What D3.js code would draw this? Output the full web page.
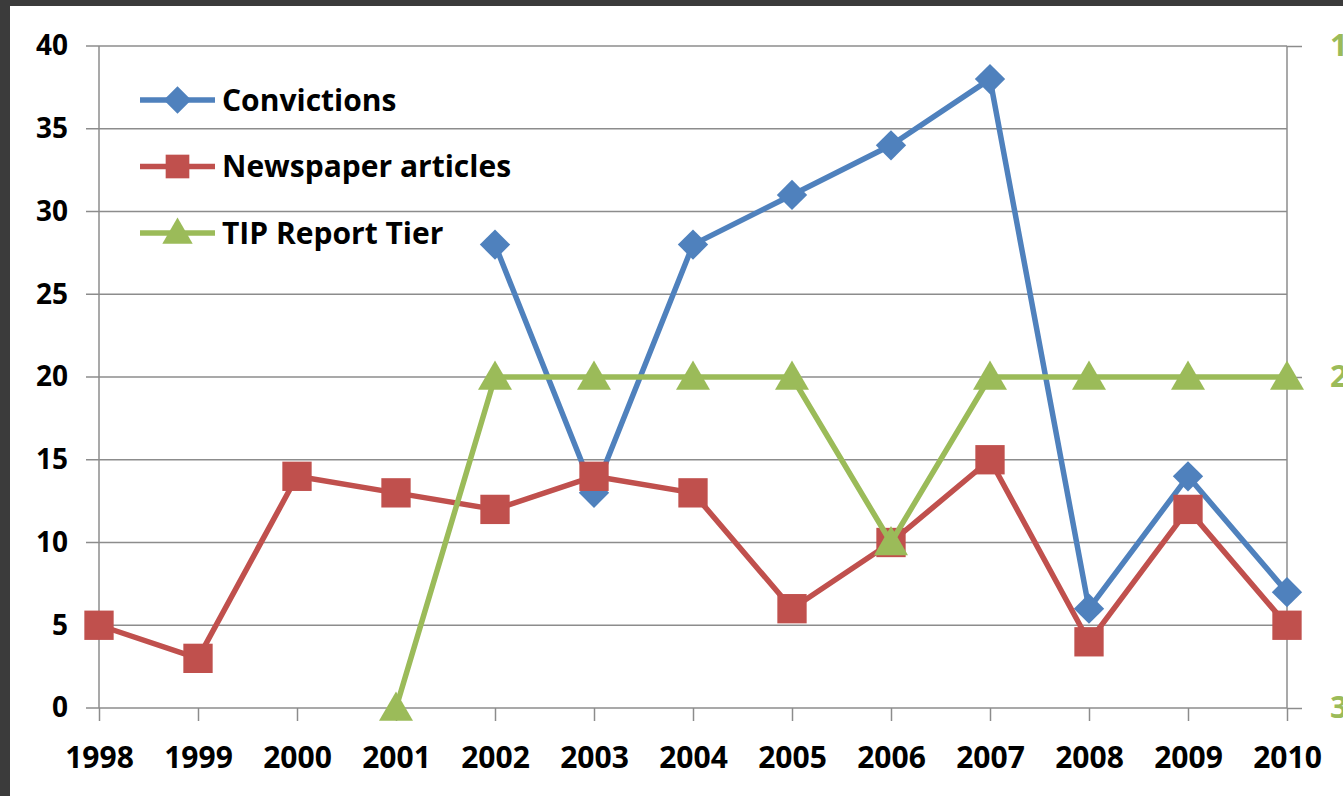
<!DOCTYPE html>
<html><head><meta charset="utf-8">
<script src="https://cdn.jsdelivr.net/npm/d3@7"></script>
<style>html,body{margin:0;padding:0;background:#fff;overflow:hidden}</style>
</head><body>
<svg id="c" width="1343" height="796"></svg>
<script>
const years = [1998,1999,2000,2001,2002,2003,2004,2005,2006,2007,2008,2009,2010];
const convictions = [null,null,null,null,28,13,28,31,34,38,6,14,7];
const newspaper = [5,3,14,13,12,14,13,6,10,15,4,12,5];
const tipTier = [null,null,null,3,2,2,2,2,2.5,2,2,2,2];
const leftTicks = [0,5,10,15,20,25,30,35,40];
const rightTicks = [1,2,3];
const seriesNames = ["Convictions","Newspaper articles","TIP Report Tier"];

const svg = d3.select("#c");
const W = 1343, H = 796;
const m = {left:99, right:1287, top:46, bottom:708};
const font = "'Open Sans', Lato, sans-serif";
const blue = "#4f81bd", red = "#c0504d", green = "#9bbb59";

svg.append("rect").attr("width",W).attr("height",H).attr("fill","#fff");
svg.append("rect").attr("x",0).attr("y",0).attr("width",W).attr("height",6).attr("fill","#3b3b3b");
svg.append("rect").attr("x",0).attr("y",0).attr("width",10).attr("height",H).attr("fill","#3b3b3b");

const x = d3.scalePoint().domain(years).range([m.left, m.right]);
const y = d3.scaleLinear().domain([0,40]).range([m.bottom, m.top]);
const y2 = d3.scaleLinear().domain([3,1]).range([m.bottom, m.top]);

svg.append("g").selectAll("line").data(leftTicks).join("line")
  .attr("x1", m.left-13).attr("x2", m.right).attr("y1", d=>y(d)).attr("y2", d=>y(d))
  .attr("stroke","#8c8c8c").attr("stroke-width",1.5);

svg.append("line").attr("x1",m.left).attr("x2",m.left).attr("y1",m.top).attr("y2",m.bottom)
  .attr("stroke","#8c8c8c").attr("stroke-width",1.5);
svg.append("line").attr("x1",m.right).attr("x2",m.right).attr("y1",m.top).attr("y2",m.bottom)
  .attr("stroke","#8c8c8c").attr("stroke-width",1.5);

const yAxis = d3.axisLeft(y).tickValues(leftTicks).tickSize(0).tickPadding(31);
const gy = svg.append("g").attr("transform",`translate(${m.left},0)`).call(yAxis);
gy.select(".domain").remove();
gy.selectAll("text").attr("font-family",font).attr("font-weight","bold").attr("font-size",28).attr("fill","#000");

const yAxis2 = d3.axisRight(y2).tickValues(rightTicks).tickFormat(d3.format("d")).tickSize(15).tickPadding(28);
const gy2 = svg.append("g").attr("transform",`translate(${m.right},0)`).call(yAxis2);
gy2.select(".domain").remove();
gy2.selectAll("line").attr("stroke","#8c8c8c").attr("stroke-width",1.5);
gy2.selectAll("text").attr("font-family",font).attr("font-weight","bold").attr("font-size",31).attr("fill",green);

const xAxis = d3.axisBottom(x).tickSize(13).tickPadding(26);
const gx = svg.append("g").attr("transform",`translate(0,${m.bottom})`).call(xAxis);
gx.select(".domain").remove();
gx.selectAll("line").attr("stroke","#8c8c8c").attr("stroke-width",1.5);
gx.selectAll("text").attr("font-family",font).attr("font-weight","bold").attr("font-size",30).attr("fill","#000");

const diamond = {draw(ctx, size){ const r = Math.sqrt(size)/Math.SQRT2; ctx.moveTo(0,-r); ctx.lineTo(r,0); ctx.lineTo(0,r); ctx.lineTo(-r,0); ctx.closePath(); }};

function series(vals, scale, color, sym, size, dy){
  const pts = years.map((yr,i)=>({yr, v: vals[i]})).filter(d=>d.v!==null);
  const line = d3.line().x(d=>x(d.yr)).y(d=>scale(d.v));
  svg.append("path").datum(pts).attr("d",line).attr("fill","none")
    .attr("stroke",color).attr("stroke-width",5.5).attr("stroke-linejoin","round");
  svg.append("g").selectAll("path").data(pts).join("path")
    .attr("d", d3.symbol().type(sym).size(size))
    .attr("transform", d=>`translate(${x(d.yr)},${scale(d.v) + dy})`)
    .attr("fill",color);
}
series(convictions, y, blue, diamond, 460, 0);
series(newspaper, y, red, d3.symbolSquare, 860, 0);
series(tipTier, y2, green, d3.symbolTriangle, 500, 3);

const legColors = [blue, red, green];
const legSyms = [diamond, d3.symbolSquare, d3.symbolTriangle];
const legSizes = [380, 560, 400];
const lg = svg.append("g");
seriesNames.forEach((name,i)=>{
  const cy = 100 + i*66.5;
  lg.append("line").attr("x1",140).attr("x2",215).attr("y1",cy).attr("y2",cy)
    .attr("stroke",legColors[i]).attr("stroke-width",5.5);
  lg.append("path").attr("d", d3.symbol().type(legSyms[i]).size(legSizes[i]))
    .attr("transform",`translate(177.5,${cy + (i===2?2:0)})`).attr("fill",legColors[i]);
  lg.append("text").attr("x",222).attr("y",cy).attr("dy","0.36em")
    .attr("font-family",font).attr("font-weight","bold").attr("font-size",30).attr("fill","#000")
    .text(name);
});
</script>
</body></html>
